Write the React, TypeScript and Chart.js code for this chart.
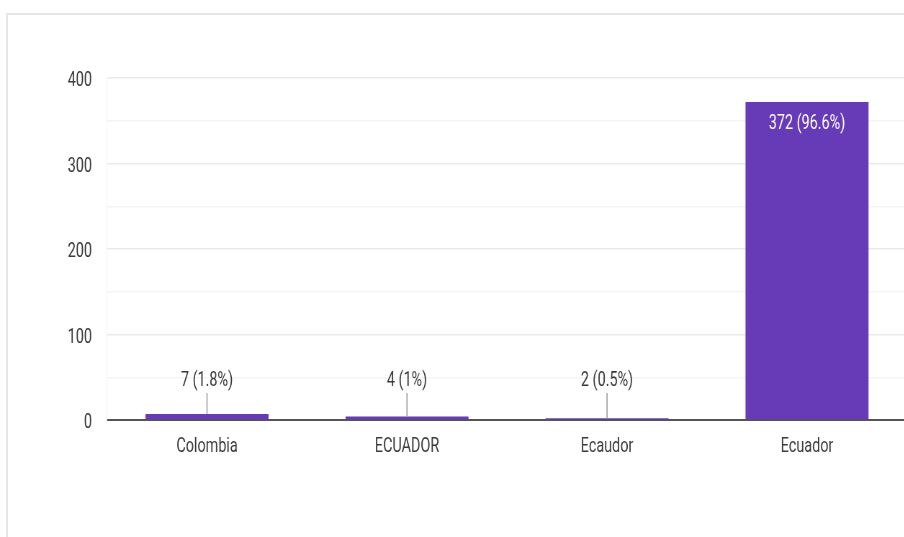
import React, { useEffect, useRef } from "react";
import { Chart, registerables } from "chart.js";

Chart.register(...registerables);

const categories = ["Colombia", "ECUADOR", "Ecaudor", "Ecuador"];
const counts = [7, 4, 2, 372];
const yTickValues = [0, 100, 200, 300, 400];

const S = 0.72; // horizontal squeeze of the reference picture
const PAGE_W = 904;
const PAGE_H = 537;
const PLOT_LEFT = 107; // page px
const PLOT_RIGHT = 907; // page px (cut off by the window)
const INNER_W = Math.ceil(920 / S);
const BAR_COLOR = "#673AB7";
const FONT = "Roboto, 'Noto Sans', sans-serif";
const TEXT_COLOR = "#3a3a3a";

const total = counts.reduce((a, b) => a + b, 0);
const fmt = (v: number) => `${v} (${Math.round((v / total) * 1000) / 10}%)`;

const labelPlugin = {
  id: "barLabels",
  afterDatasetsDraw(chart: any) {
    const { ctx } = chart;
    const meta = chart.getDatasetMeta(0);
    const zeroY = chart.scales.y.getPixelForValue(0);
    ctx.save();
    ctx.font = `20px ${FONT}`;
    ctx.textAlign = "center";
    ctx.textBaseline = "middle";
    meta.data.forEach((bar: any, i: number) => {
      const v = counts[i];
      const text = fmt(v);
      const h = zeroY - bar.y;
      if (h > 40) {
        ctx.fillStyle = "#ffffff";
        ctx.fillText(text, bar.x, bar.y + 22);
      } else {
        ctx.strokeStyle = "#9e9e9e";
        ctx.lineWidth = 1.6;
        ctx.beginPath();
        ctx.moveTo(bar.x, zeroY - 27);
        ctx.lineTo(bar.x, bar.y);
        ctx.stroke();
        ctx.fillStyle = TEXT_COLOR;
        ctx.fillText(text, bar.x, zeroY - 39);
      }
    });
    ctx.restore();
  },
};

export default function App() {
  const ref = useRef<HTMLCanvasElement | null>(null);

  useEffect(() => {
    if (!ref.current) return;
    const chart = new Chart(ref.current, {
      type: "bar",
      data: {
        labels: categories,
        datasets: [
          {
            data: counts,
            backgroundColor: BAR_COLOR,
            barPercentage: 0.615,
            categoryPercentage: 1,
          },
        ],
      },
      options: {
        responsive: false,
        animation: false,
        devicePixelRatio: 1,
        layout: {
          padding: { top: 78, right: INNER_W - PLOT_RIGHT / S, bottom: 0, left: 0 },
        },
        plugins: { legend: { display: false }, tooltip: { enabled: false } },
        scales: {
          x: {
            grid: { display: false, drawTicks: false },
            border: { display: true, color: "#555555", width: 2 },
            ticks: {
              color: TEXT_COLOR,
              font: { family: FONT, size: 20 },
              padding: 15,
            },
            afterFit: (scale: any) => {
              scale.height = PAGE_H - 420;
            },
          },
          y: {
            min: 0,
            max: 400,
            afterBuildTicks: (scale: any) => {
              const vals: number[] = [];
              for (let v = 0; v <= 400; v += 50) vals.push(v);
              scale.ticks = vals.map((v) => ({ value: v }));
            },
            grid: {
              drawTicks: false,
              color: (c: any) =>
                c.tick && yTickValues.includes(c.tick.value) ? "#e9e9e9" : "#f4f4f4",
              lineWidth: 1.5,
            },
            border: { display: true, color: "#f0f0f0" },
            ticks: {
              color: TEXT_COLOR,
              font: { family: FONT, size: 20 },
              padding: 15 / S,
              labelOffset: 3,
              callback: (v: any) => (yTickValues.includes(Number(v)) ? String(v) : ""),
            },
            afterFit: (scale: any) => {
              scale.width = PLOT_LEFT / S;
            },
          },
        },
      },
      plugins: [labelPlugin],
    });
    return () => chart.destroy();
  }, []);

  return (
    <div
      style={{
        position: "fixed",
        left: 0,
        top: 0,
        width: PAGE_W,
        height: PAGE_H,
        overflow: "hidden",
        background: "#ffffff",
      }}
    >
      <div
        style={{
          position: "absolute",
          left: 6,
          top: 13,
          width: PAGE_W + 20,
          height: PAGE_H + 20,
          borderLeft: "2px solid #e6e6e6",
          borderTop: "2px solid #e6e6e6",
        }}
      />
      <canvas
        ref={ref}
        width={INNER_W}
        height={PAGE_H}
        style={{
          position: "absolute",
          left: 0,
          top: 0,
          width: `${INNER_W}px`,
          height: `${PAGE_H}px`,
          transform: `scaleX(${S})`,
          transformOrigin: "0 0",
        }}
      />
    </div>
  );
}
